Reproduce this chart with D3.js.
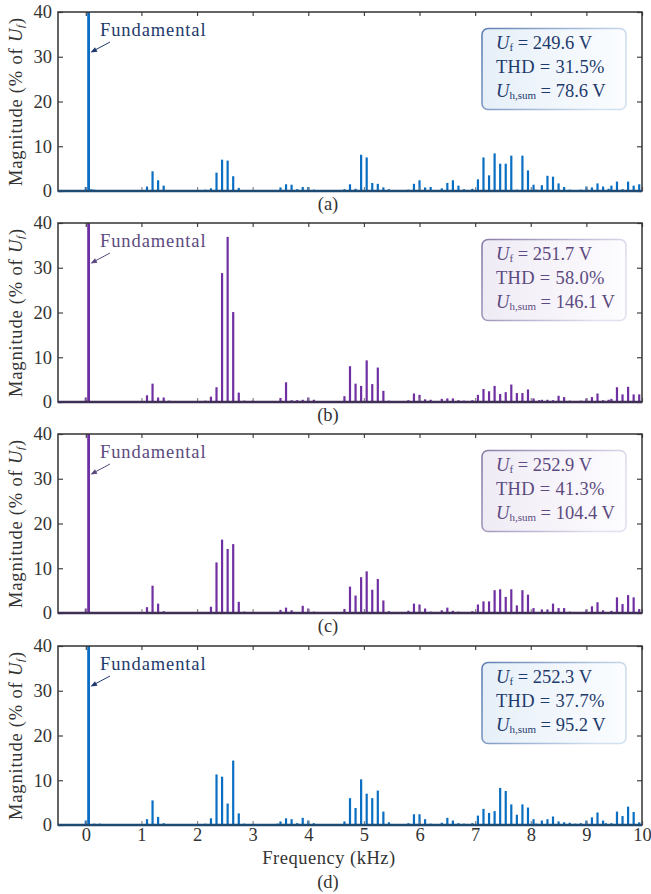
<!DOCTYPE html>
<html><head><meta charset="utf-8">
<script src="https://cdn.jsdelivr.net/npm/d3@7"></script>
<style>
html,body{margin:0;padding:0;background:#fff;}
svg{display:block;font-family:"Liberation Serif","Times New Roman",serif;}
</style></head>
<body><svg id="c" width="651" height="894"></svg>
<script>
// harmonic step (kHz per order): f = order * 50 Hz
const harmonicStepKHz = 0.05;
const xTicks = [0,1,2,3,4,5,6,7,8,9,10];
const yTicks = [0,10,20,30,40];
const panelLabels = ["(a)","(b)","(c)","(d)"];
const fundLabel = "Fundamental";

const ordersA = [0,1,2,3,4,22,24,26,28,43,45,47,49,51,53,55,70,72,74,76,78,80,82,93,95,97,99,101,103,105,107,109,116,118,120,122,124,128,130,132,134,136,139,141,143,145,147,149,151,153,155,157,159,161,162,164,166,168,170,172,174,178,180,182,184,186,188,189,191,193,195,197,199];
const magsA   = [0.9,100,0.4,0.3,0.2,1.0,4.4,2.4,1.2,0.3,0.6,4.1,7.0,6.8,3.3,0.7,0.8,1.5,1.4,0.4,0.9,0.9,0.3,0.4,1.5,0.5,8.1,7.5,1.8,1.6,0.8,0.4,0.3,1.6,2.4,0.8,0.9,0.6,1.8,2.4,1.2,0.4,0.5,2.6,7.5,3.5,8.4,6.1,6.1,7.9,0.3,7.9,4.6,1.4,0.3,1.3,3.4,3.2,1.7,0.9,0.3,0.3,1.0,0.8,1.7,1.0,0.5,1.2,2.1,0.4,2.1,1.2,1.5];

const ordersB = [0,1,22,24,26,28,30,43,45,47,49,51,53,55,57,60,70,72,74,76,78,80,82,93,95,97,99,101,103,105,107,109,116,118,120,122,124,128,130,132,134,136,139,141,143,145,147,149,151,153,155,157,159,161,163,164,166,168,170,172,174,178,180,182,184,186,188,189,191,193,195,197,199];
const magsB   = [1.0,100,1.5,4.1,1.0,1.0,0.3,0.3,1.2,3.3,28.8,36.9,20.1,2.1,0.3,0.3,0.9,4.4,0.4,0.4,0.5,1.0,0.5,1.3,8.0,4.1,3.6,9.3,4.0,7.7,2.5,0.3,0.4,1.9,1.6,0.6,0.5,0.7,0.8,0.8,0.4,0.3,0.4,1.6,2.9,2.4,3.6,1.8,2.2,3.9,2.0,2.0,2.8,0.8,0.4,0.5,0.5,0.4,1.4,1.1,0.3,0.3,0.8,1.1,1.9,0.4,0.5,0.7,3.3,1.7,3.4,1.7,1.7];

const ordersC = [0,1,22,24,26,28,45,47,49,51,53,55,57,70,72,74,78,80,82,93,95,97,99,101,103,105,107,109,116,118,120,122,124,128,130,132,134,139,141,143,145,147,149,151,153,155,157,159,161,164,166,168,170,172,174,180,182,184,186,189,191,193,195,197,199];
const magsC   = [1.0,100,1.3,6.1,2.1,0.4,1.4,11.3,16.4,14.3,15.4,2.5,0.3,0.7,1.2,0.6,1.6,1.0,0.3,0.9,5.9,3.9,8.0,9.3,5.2,7.6,2.8,0.4,0.5,2.1,1.9,1.0,0.3,0.6,1.2,0.5,0.3,0.4,1.9,2.6,2.6,5.1,5.3,3.6,5.3,1.7,5.1,4.1,1.1,0.8,0.8,2.1,1.1,1.1,0.3,0.8,1.5,2.4,0.6,0.5,3.5,2.0,4.0,3.5,0.9];

const ordersD = [0,1,3,5,22,24,26,28,43,45,47,49,51,53,55,57,69,70,72,74,76,78,80,82,93,95,97,99,101,103,105,107,109,116,118,120,122,124,128,130,132,134,136,139,141,143,145,147,149,151,153,155,157,159,161,162,164,166,168,170,172,174,176,178,180,182,184,186,187,189,191,193,195,197,199];
const magsD   = [1.0,100,0.3,0.3,1.3,5.5,1.8,0.4,0.3,1.5,11.3,10.8,4.8,14.4,2.6,0.3,0.3,0.8,1.5,1.3,0.4,1.6,1.0,0.4,0.8,6.0,3.8,10.2,7.0,6.0,7.7,3.0,0.6,0.4,2.4,2.4,1.3,0.3,0.5,1.6,1.0,0.4,0.3,0.4,2.1,3.6,2.7,3.1,8.3,7.6,4.6,2.3,4.6,3.9,1.3,0.3,1.0,1.3,1.9,0.8,0.6,0.5,0.3,0.4,1.0,1.7,2.8,1.0,0.4,0.4,3.0,2.0,4.1,2.9,0.6];

const ufValues   = ["249.6","251.7","252.9","252.3"];
const thdValues  = ["31.5","58.0","41.3","37.7"];
const uhsumValues= ["78.6","146.1","104.4","95.2"];

const panels = [
  {orders:ordersA, mags:magsA, bar:"#0a6fc2", text:"#1e3a6c", bTop:"#5f7fb2", bEnd:"#d2e1f0", f0:"#e6eff8", f1:"#fbfdff", base:"#1f4a72"},
  {orders:ordersB, mags:magsB, bar:"#7030a2", text:"#5c4a80", bTop:"#8a7ca8", bEnd:"#e3dff0", f0:"#efebf5", f1:"#fdfcfe", base:"#3f2f55"},
  {orders:ordersC, mags:magsC, bar:"#7030a2", text:"#5c4a80", bTop:"#8a7ca8", bEnd:"#e3dff0", f0:"#efebf5", f1:"#fdfcfe", base:"#3f2f55"},
  {orders:ordersD, mags:magsD, bar:"#0a6fc2", text:"#1e3a6c", bTop:"#5f7fb2", bEnd:"#d2e1f0", f0:"#e6eff8", f1:"#fbfdff", base:"#1f4a72"}
];

const left = 58, right = 642;
const tops = [12, 223, 434, 646];
const ph = 179;
const svg = d3.select("#c");
const defs = svg.append("defs");

const x = d3.scaleLinear().domain([-0.5, 10]).range([left, right]);

panels.forEach((p, i) => {
  const top = tops[i];
  const y = d3.scaleLinear().domain([0, 40]).range([top + ph, top]);
  const g = svg.append("g");

  const clipId = "clip" + i;
  defs.append("clipPath").attr("id", clipId).append("rect")
    .attr("x", left).attr("y", top).attr("width", right - left).attr("height", ph);

  // bars
  const data = p.orders.map((o, k) => ({f: o * harmonicStepKHz, m: p.mags[k], o}));
  g.append("g").attr("clip-path", `url(#${clipId})`)
    .selectAll("rect").data(data).join("rect")
    .attr("x", d => x(d.f) - (d.o === 1 ? 1.4 : 1.1))
    .attr("width", d => d.o === 1 ? 2.8 : 2.2)
    .attr("y", d => y(Math.min(d.m, 45)))
    .attr("height", d => y(0) - y(Math.min(d.m, 45)))
    .attr("fill", p.bar);

  // axes (ticks inward)
  const axTop = d3.axisTop(x).tickValues(xTicks).tickSizeInner(-4).tickSizeOuter(0).tickFormat("");
  const axBot = d3.axisBottom(x).tickValues(xTicks).tickSizeInner(-4).tickSizeOuter(0)
    .tickPadding(3).tickFormat(i === 3 ? d3.format("d") : "");
  const axL = d3.axisLeft(y).tickValues(yTicks).tickSizeInner(-5).tickSizeOuter(0).tickPadding(6).tickFormat(d3.format("d"));
  const axR = d3.axisRight(y).tickValues(yTicks).tickSizeInner(-5).tickSizeOuter(0).tickFormat("");

  const gt = g.append("g").attr("transform", `translate(0,${top})`).call(axTop);
  const gb = g.append("g").attr("transform", `translate(0,${top + ph})`).call(axBot);
  const gl = g.append("g").attr("transform", `translate(${left},0)`).call(axL);
  const gr = g.append("g").attr("transform", `translate(${right},0)`).call(axR);
  [gt, gb, gl, gr].forEach(a => {
    a.select(".domain").remove();
    a.selectAll("line").attr("stroke", "#444").attr("stroke-width", 1.2);
    a.selectAll("text").attr("fill", "#333").style("font-size", "18.5px")
      .style("font-family", '"Liberation Serif", serif');
  });
  gb.selectAll("line").attr("stroke", "#888");

  // frame
  g.append("rect").attr("x", left).attr("y", top).attr("width", right - left).attr("height", ph)
    .attr("fill", "none").attr("stroke", "#333").attr("stroke-width", 1.5);
  // baseline
  g.append("line").attr("x1", left).attr("x2", right).attr("y1", y(0)).attr("y2", y(0))
    .attr("stroke", p.base).attr("stroke-width", 2.6);

  // Fundamental annotation
  g.append("text").attr("x", 100).attr("y", top + 23.5).text(fundLabel)
    .attr("fill", p.text).style("font-size", "18.5px").style("letter-spacing", "0.9px");
  const ax1 = 110, ay1 = top + 30, ax2 = 90.5, ay2 = top + 40.5;
  g.append("line").attr("x1", ax1).attr("y1", ay1).attr("x2", ax2 + 4).attr("y2", ay2 - 2.2)
    .attr("stroke", p.text).attr("stroke-width", 1);
  const ang = Math.atan2(ay2 - ay1, ax2 - ax1);
  const hl = 6.5, hw = 2.6;
  const bx = ax2 - hl * Math.cos(ang), by = ay2 - hl * Math.sin(ang);
  const nx = -Math.sin(ang), ny = Math.cos(ang);
  g.append("path")
    .attr("d", `M${ax2},${ay2}L${bx + nx*hw},${by + ny*hw}L${bx - nx*hw},${by - ny*hw}Z`)
    .attr("fill", p.text);

  // legend box
  const gid = "lg" + i, fid = "lf" + i;
  const lgB = defs.append("linearGradient").attr("id", gid).attr("x1", 0).attr("x2", 1).attr("y1", 0).attr("y2", 0.3);
  lgB.append("stop").attr("offset", 0).attr("stop-color", p.bTop);
  lgB.append("stop").attr("offset", 1).attr("stop-color", p.bEnd);
  const lgF = defs.append("linearGradient").attr("id", fid).attr("x1", 0).attr("x2", 1).attr("y1", 0).attr("y2", 0);
  lgF.append("stop").attr("offset", 0).attr("stop-color", p.f0);
  lgF.append("stop").attr("offset", 1).attr("stop-color", p.f1);
  const bx0 = 482, by0 = top + 16.5;
  g.append("rect").attr("x", bx0).attr("y", by0).attr("width", 144).attr("height", 81)
    .attr("rx", 6).attr("ry", 6)
    .attr("fill", `url(#${fid})`).attr("stroke", `url(#${gid})`).attr("stroke-width", 1.6);

  const tx = 496;
  const fs = "18.5px";
  const t1 = g.append("text").attr("x", tx).attr("y", top + 36.5).attr("fill", p.text).style("font-size", fs);
  t1.append("tspan").text("U").style("font-style", "italic");
  t1.append("tspan").text("f").style("font-size", "11px").attr("dy", 2);
  t1.append("tspan").text(` = ${ufValues[i]} V`).attr("dy", -2);
  g.append("text").attr("x", tx).attr("y", top + 61).attr("fill", p.text).style("font-size", fs)
    .style("letter-spacing", "0.3px").text(`THD = ${thdValues[i]}%`);
  const t3 = g.append("text").attr("x", tx).attr("y", top + 85).attr("fill", p.text).style("font-size", fs);
  t3.append("tspan").text("U").style("font-style", "italic");
  t3.append("tspan").text("h,sum").style("font-size", "11px").attr("dy", 2);
  t3.append("tspan").text(` = ${uhsumValues[i]} V`).attr("dy", -2);

  // y label
  const yl = g.append("text")
    .attr("transform", `translate(22,${top + ph / 2}) rotate(-90)`)
    .attr("text-anchor", "middle").attr("fill", "#333")
    .style("font-size", "18.5px").style("letter-spacing", "0.8px");
  yl.append("tspan").text("Magnitude (% of ");
  yl.append("tspan").text("U").style("font-style", "italic");
  yl.append("tspan").text("f").style("font-style", "italic").style("font-size", "11px").attr("dy", 2);
  yl.append("tspan").text(")").attr("dy", -2);

  // panel label
  const ly = i === 3 ? 888 : top + ph + 19;
  g.append("text").attr("x", 328).attr("y", ly).attr("text-anchor", "middle")
    .attr("fill", "#333").style("font-size", "18.5px").text(panelLabels[i]);
});

svg.append("text").attr("x", 329).attr("y", 864).attr("text-anchor", "middle")
  .attr("fill", "#333").style("font-size", "18.5px").style("letter-spacing", "0.5px")
  .text("Frequency (kHz)");
</script></body></html>
